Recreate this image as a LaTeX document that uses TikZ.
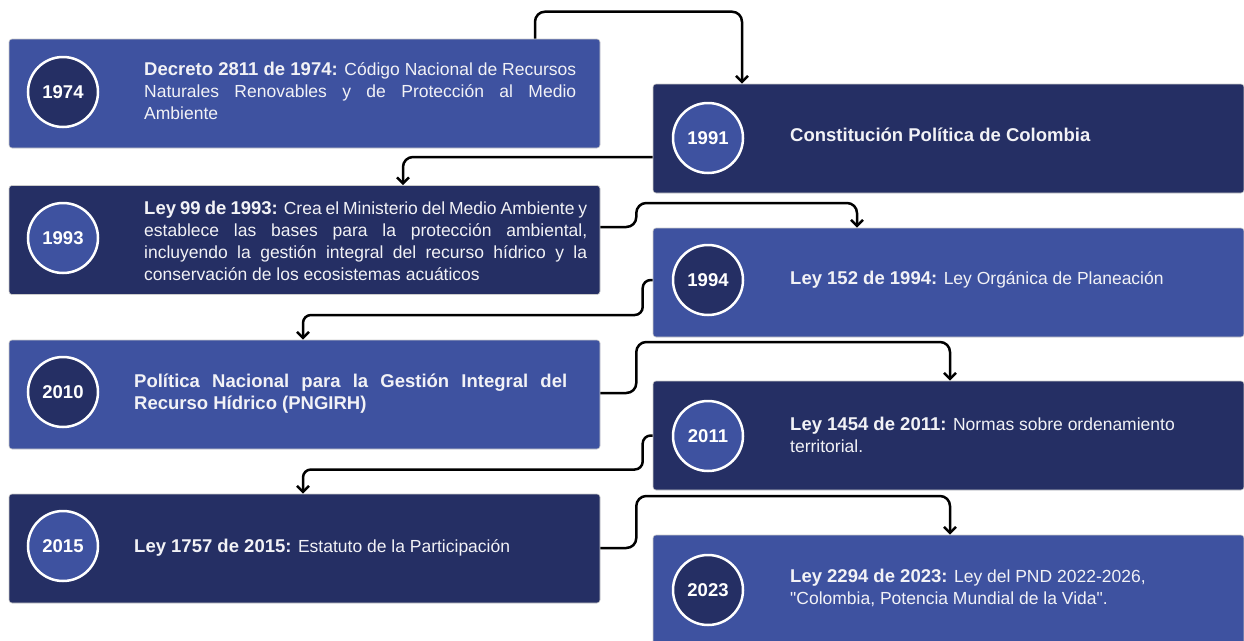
\documentclass[tikz,border=0pt]{standalone}
\usepackage{fontspec}
\setmainfont{Liberation Sans}
\usetikzlibrary{arrows.meta}
\definecolor{midblue}{RGB}{62,82,160}
\definecolor{navy}{RGB}{37,47,100}
\definecolor{txt}{RGB}{242,242,246}
\newcommand{\JLine}[2]{\makebox[#1][s]{#2}}
\newcommand{\Bd}[1]{{\fontsize{18.5}{22}\selectfont\bfseries #1}}
\begin{document}
\begin{tikzpicture}[x=1pt,y=-1pt,
  box/.style={rectangle, rounded corners=3pt, minimum width=591pt, minimum height=109pt, inner sep=0pt, draw=black!20, line width=0.6pt},
  yearc/.style={circle, minimum size=70pt, inner sep=0pt, draw=white, line width=2.5pt, text=white, font=\bfseries\fontsize{18.5}{21}\selectfont},
  lbl/.style={inner sep=0pt, text=txt, align=left, anchor=west, font=\fontsize{17.5}{22}\selectfont},
  conn/.style={draw=black, line width=2.5pt, rounded corners=10pt, -{Straight Barb[length=6pt,width=12pt]}}
]
\useasboundingbox (0,0) rectangle (1244,640);

% boxes
\node[box, fill=midblue] (b1974) at (304.5,93.5) {};
\node[box, fill=navy]    (b1993) at (304.5,240) {};
\node[box, fill=midblue] (b2010) at (304.5,394.5) {};
\node[box, fill=navy]    (b2015) at (304.5,548.5) {};
\node[box, fill=navy]    (b1991) at (948.5,138.5) {};
\node[box, fill=midblue] (b1994) at (948.5,282.5) {};
\node[box, fill=navy]    (b2011) at (948.5,435.5) {};
\node[box, fill=midblue] (b2023) at (948.5,589.5) {};

% year circles
\node[yearc, fill=navy]    (c1974) at (63,92)  {1974};
\node[yearc, fill=midblue] (c1993) at (63,238) {1993};
\node[yearc, fill=navy]    (c2010) at (63,392) {2010};
\node[yearc, fill=midblue] (c2015) at (63,546) {2015};
\node[yearc, fill=midblue] (c1991) at (708,138) {1991};
\node[yearc, fill=navy]    (c1994) at (708,280) {1994};
\node[yearc, fill=midblue] (c2011) at (708,436) {2011};
\node[yearc, fill=navy]    (c2023) at (708,590) {2023};

% texts
\node[lbl] (t1974) at (144,91) {\JLine{432pt}{\Bd{Decreto 2811 de 1974:} Código Nacional de Recursos}\\
\JLine{432pt}{Naturales Renovables y de Protección al Medio}\\
Ambiente};
\node[lbl] (t1993) at (144,241) {\JLine{443pt}{\Bd{Ley 99 de 1993:} Crea el Ministerio del Medio Ambiente y}\\
\JLine{443pt}{establece las bases para la protección ambiental,}\\
\JLine{443pt}{incluyendo la gestión integral del recurso hídrico y la}\\
conservación de los ecosistemas acuáticos};
\node[lbl, font=\bfseries\fontsize{18.5}{22}\selectfont] (t2010) at (134,394) {\JLine{433pt}{Política Nacional para la Gestión Integral del}\\
Recurso Hídrico (PNGIRH)};
\node[lbl] (t2015) at (134,548) {\Bd{Ley 1757 de 2015:} Estatuto de la Participación};
\node[lbl, font=\bfseries\fontsize{18.5}{22}\selectfont] (t1991) at (790,135) {Constitución Política de Colombia};
\node[lbl] (t1994) at (790,280) {\Bd{Ley 152 de 1994:} Ley Orgánica de Planeación};
\node[lbl] (t2011) at (790,435) {\Bd{Ley 1454 de 2011:} Normas sobre ordenamiento\\ territorial.};
\node[lbl] (t2023) at (790,588) {\Bd{Ley 2294 de 2023:} Ley del PND 2022-2026,\\ \textquotedbl Colombia, Potencia Mundial de la Vida\textquotedbl.};

% connectors
\draw[conn] ([xshift=230.5pt]b1974.north) -- ++(0,-27) -| ([xshift=-206.5pt]b1991.north);
\draw[conn] ([yshift=-18.5pt]b1991.west) -| ([xshift=98.5pt]b1993.north);
\draw[conn] ([yshift=13pt]b1993.east) -- ++(36,0) -- ++(0,-24) -| ([xshift=-91.5pt]b1994.north);
\draw[conn, rounded corners=8pt] ([yshift=2.5pt]b1994.west) -- ++(-10,0) -- ++(0,35) -| ([xshift=-1.5pt]b2010.north);
\draw[conn] ([yshift=1.5pt]b2010.east) -- ++(36,0) -- ++(0,-51) -| ([xshift=1.5pt]b2011.north);
\draw[conn, rounded corners=8pt] (b2011.west) -- ++(-10,0) -- ++(0,34) -| ([xshift=-1.5pt]b2015.north);
\draw[conn] ([yshift=0.5pt]b2015.east) -- ++(36,0) -- ++(0,-52) -| ([xshift=1.5pt]b2023.north);
\end{tikzpicture}
\end{document}
